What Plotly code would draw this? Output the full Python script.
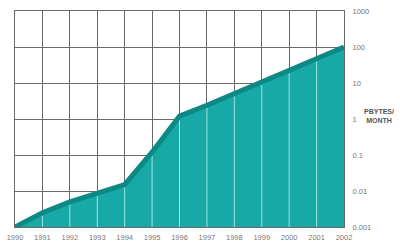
import plotly.graph_objects as go

years = list(range(1990, 2003))
traffic = [0.001, 0.0025, 0.005, 0.0085, 0.015, 0.12, 1.2, 2.4, 5.0, 10.5, 22, 47, 100]
ytick_vals = [0.001, 0.01, 0.1, 1, 10, 100, 1000]
ytick_text = ["0.001", "0.01", "0.1", "1", "10", "100", "1000"]
unit_label = "PBYTES/<br>MONTH"

fill_color = "#17a9a5"
edge_color = "#0c8985"
grid_color = "#6a6a6a"
font = dict(family="Liberation Sans, Arial, sans-serif", size=7.5, color="#777777")

fig = go.Figure()

# filled area
fig.add_trace(go.Scatter(x=years, y=traffic, mode="lines", fill="tozeroy",
                         fillcolor=fill_color, line=dict(color=fill_color, width=0),
                         hoverinfo="skip", showlegend=False))

# white vertical year lines inside the fill
vx, vy = [], []
for yr, v in zip(years[1:-1], traffic[1:-1]):
    vx += [yr, yr, None]
    vy += [ytick_vals[0], v * 0.85, None]
fig.add_trace(go.Scatter(x=vx, y=vy, mode="lines",
                         line=dict(color="#9fe3df", width=1),
                         hoverinfo="skip", showlegend=False))

# dark top edge
fig.add_trace(go.Scatter(x=years, y=traffic, mode="lines",
                         line=dict(color=edge_color, width=5),
                         hoverinfo="skip", showlegend=False))

fig.add_annotation(text=unit_label, xref="paper", yref="y", x=1.105, y=0.08,
                   xanchor="center", yanchor="middle", showarrow=False,
                   font=dict(family="Liberation Sans, Arial, sans-serif", size=7,
                             color="#555555", weight="bold"))

fig.update_layout(
    width=400, height=249,
    margin=dict(l=10, r=56, t=7, b=20),
    paper_bgcolor="white", plot_bgcolor="white",
    font=font,
    xaxis=dict(range=[1990, 2002], tickvals=years, ticktext=[str(y) for y in years],
               showgrid=True, gridcolor=grid_color, gridwidth=1,
               showline=True, mirror=True, linecolor=grid_color, linewidth=1,
               layer="below traces", ticks="", zeroline=False, tickfont=font,
               ticklabelstandoff=3),
    yaxis=dict(type="log", range=[-3, 3], side="right", tickvals=ytick_vals,
               ticktext=ytick_text, showgrid=True, gridcolor=grid_color, gridwidth=1,
               showline=True, mirror=True, linecolor=grid_color, linewidth=1,
               layer="below traces", ticks="", zeroline=False, tickfont=font,
               ticklabelstandoff=6),
)

fig.write_html("out.html")
